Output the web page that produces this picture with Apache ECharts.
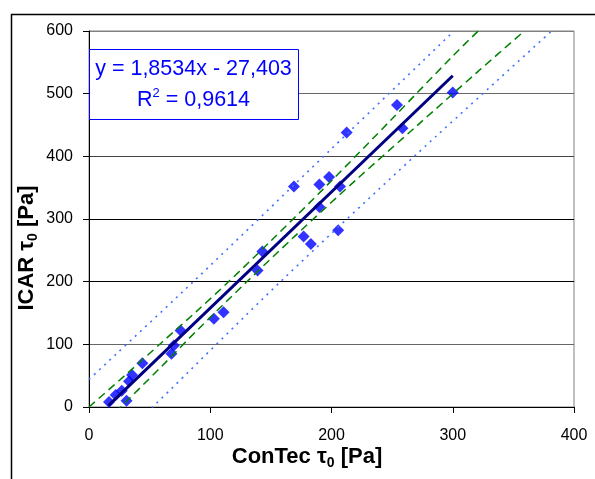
<!DOCTYPE html>
<html>
<head>
<meta charset="utf-8">
<script src="https://cdn.jsdelivr.net/npm/echarts@6/dist/echarts.min.js"></script>
<style>
html,body{margin:0;padding:0;background:#fff;}
#c{width:595px;height:479px;}
</style>
</head>
<body>
<div id="c"></div>
<script>
// Measured points: ConTec tau0 (x) vs ICAR tau0 (y)
var contecX = [16.5, 22, 27, 31, 33, 35.5, 44, 68, 70, 75.5, 103, 111, 139, 143, 169, 177, 183, 190, 190, 198, 205.5, 207, 212.5, 254, 258.5, 300];
var icarY   = [8, 19, 26, 10, 41, 51, 70, 85, 98, 122, 141, 151, 218, 248, 352, 272, 260, 319, 355, 367, 282, 352, 438, 482, 445, 502];

// Linear trend line (end points)
var trendX = [16, 300];
var trendY = [2.3, 528.6];

// Confidence band (green dashed)
var confUpX = [0, 30, 60, 90, 114.6, 150, 200, 250, 300, 321];
var confUpY = [0, 51, 103, 155, 199, 265, 361, 460, 560, 600];
var confLoX = [22, 60, 90, 129.7, 170, 220, 270, 320, 359];
var confLoY = [-8, 65, 124, 199, 273, 362, 448, 534, 600];

// Prediction band (blue dotted)
var predUpX = [0, 85.5, 200, 301];
var predUpY = [44, 199, 412, 600];
var predLoX = [47, 52.5, 157.4, 270, 381.6];
var predLoY = [-8, 0, 199, 403, 600];

var xTicks = [0, 100, 200, 300, 400];
var yTicks = [0, 100, 200, 300, 400, 500, 600];

var eqText = 'y = 1,8534x - 27,403';
var r2Value = '0,9614';

function zip(a, b) { return a.map(function (v, i) { return [v, b[i]]; }); }

var chart = echarts.init(document.getElementById('c'), null, {renderer: 'canvas'});
var FONT = 'Liberation Sans, Arial, sans-serif';

chart.setOption({
  animation: false,
  backgroundColor: '#fff',
  grid: {left: 89, right: 21, top: 31, bottom: 72, show: true, borderColor: '#808080', borderWidth: 1, backgroundColor: 'transparent'},
  xAxis: {
    type: 'value', min: xTicks[0], max: xTicks[xTicks.length - 1], interval: 100,
    axisLine: {show: true, onZero: false, lineStyle: {color: '#000', width: 1}},
    axisTick: {show: true, inside: false, length: 6, lineStyle: {color: '#000'}},
    axisLabel: {fontSize: 16, color: '#000', fontFamily: FONT, margin: 21},
    splitLine: {show: false}
  },
  yAxis: {
    type: 'value', min: yTicks[0], max: yTicks[yTicks.length - 1], interval: 100,
    axisLine: {show: true, onZero: false, lineStyle: {color: '#000', width: 1}},
    axisTick: {show: true, inside: false, length: 6, lineStyle: {color: '#000'}},
    axisLabel: {fontSize: 16, color: '#000', fontFamily: FONT, margin: 16},
    splitLine: {show: true, lineStyle: {color: ['#000', '#666', '#000', '#000', '#444', '#666', '#808080'], width: 1}}
  },
  series: [
    {type: 'scatter', data: zip(contecX, icarY), symbol: 'diamond', symbolSize: [12, 12],
     itemStyle: {color: '#0000ff'}, z: 3},
    {type: 'line', data: zip(predUpX, predUpY), showSymbol: false, symbol: 'none', smooth: 0.3,
     lineStyle: {color: '#4070ff', width: 1.6, type: [2, 5]}, z: 4},
    {type: 'line', data: zip(predLoX, predLoY), showSymbol: false, symbol: 'none', smooth: 0.3,
     lineStyle: {color: '#4070ff', width: 1.6, type: [2, 5]}, z: 4},
    {type: 'line', data: zip(confUpX, confUpY), showSymbol: false, symbol: 'none', smooth: 0.3,
     lineStyle: {color: '#008000', width: 1.5, type: [8, 5]}, z: 4},
    {type: 'line', data: zip(confLoX, confLoY), showSymbol: false, symbol: 'none', smooth: 0.3,
     lineStyle: {color: '#008000', width: 1.5, type: [8, 5]}, z: 4},
    {type: 'line', data: zip(trendX, trendY), showSymbol: false, symbol: 'none',
     lineStyle: {color: '#000080', width: 3}, z: 5}
  ],
  graphic: [
    {type: 'rect', left: 9, top: 12, z: -10, silent: true,
     shape: {x: 0, y: 0, width: 700, height: 600},
     style: {fill: 'none', stroke: '#000', lineWidth: 1.5}},
    {type: 'rect', z: 100, silent: true,
     shape: {x: 89.5, y: 49.5, width: 209, height: 70},
     style: {fill: '#fff', stroke: '#0000ff', lineWidth: 1}},
    {type: 'text', z: 101, silent: true, x: 193.5, y: 69,
     style: {text: eqText, fill: '#0000ff', font: '21.5px ' + FONT, align: 'center', verticalAlign: 'middle'}},
    {type: 'text', z: 101, silent: true, x: 193.5, y: 99,
     style: {text: '{a|R}{s|2}{a| = ' + r2Value + '}', align: 'center', verticalAlign: 'middle',
       rich: {
         a: {fill: '#0000ff', fontSize: 21.5, fontFamily: FONT, lineHeight: 24, verticalAlign: 'bottom'},
         s: {fill: '#0000ff', fontSize: 13, fontFamily: FONT, lineHeight: 24, verticalAlign: 'top'}
       }}},
    {type: 'text', z: 101, silent: true, x: 307, y: 458,
     style: {text: '{a|ConTec τ}{s|0}{a| [Pa]}', align: 'center', verticalAlign: 'middle',
       rich: {
         a: {fill: '#000', fontSize: 22, fontWeight: 'bold', fontFamily: FONT, lineHeight: 24, verticalAlign: 'top'},
         s: {fill: '#000', fontSize: 14, fontWeight: 'bold', fontFamily: FONT, lineHeight: 24, verticalAlign: 'bottom'}
       }}},
    {type: 'text', z: 101, silent: true, x: 28, y: 248, rotation: Math.PI / 2,
     style: {text: '{a|ICAR τ}{s|0}{a| [Pa]}', align: 'center', verticalAlign: 'middle',
       rich: {
         a: {fill: '#000', fontSize: 22, fontWeight: 'bold', fontFamily: FONT, lineHeight: 24, verticalAlign: 'top'},
         s: {fill: '#000', fontSize: 14, fontWeight: 'bold', fontFamily: FONT, lineHeight: 24, verticalAlign: 'bottom'}
       }}}
  ]
});
</script>
</body>
</html>
